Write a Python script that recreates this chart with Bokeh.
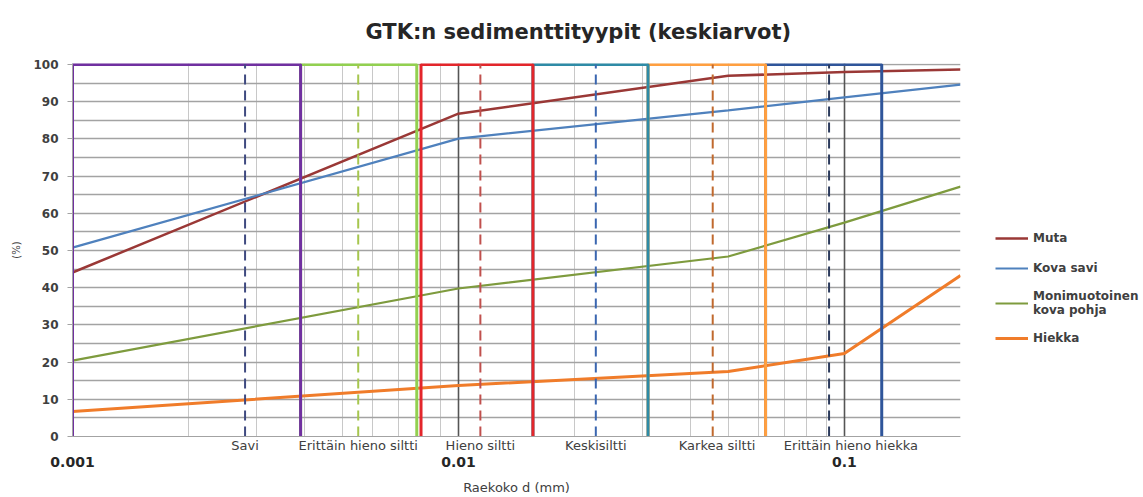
from bokeh.plotting import figure
from bokeh.models import LogAxis, FixedTicker, Grid, Legend, LegendItem, Range1d
from bokeh.embed import file_html
from bokeh.resources import INLINE

# ---- data ----
grain_mm = [0.001, 0.01, 0.05, 0.1, 0.2]
muta = [44.1, 86.8, 97.0, 98.0, 98.7]
kova_savi = [50.8, 80.1, 87.7, 91.2, 94.6]
monimuotoinen = [20.4, 39.8, 48.4, 57.5, 67.2]
hiekka = [6.7, 13.7, 17.5, 22.3, 43.3]

series_names = ["Muta", "Kova savi", "Monimuotoinen\nkova pohja", "Hiekka"]

class_names = ["Savi", "Erittäin hieno siltti", "Hieno siltti",
               "Keskisiltti", "Karkea siltti", "Erittäin hieno hiekka"]
class_lo = [0.001, 0.0039, 0.008, 0.0156, 0.031, 0.0625]
class_hi = [0.0039, 0.0078, 0.0156, 0.031, 0.0625, 0.125]
class_mid = [0.0028, 0.0055, 0.0114, 0.0227, 0.0456, 0.0913]
class_label_x = [0.0028, 0.0055, 0.0114, 0.0227, 0.0468, 0.104]

decade_ticks = [0.001, 0.01, 0.1]
decade_labels = ["0.001", "0.01", "0.1"]
y_ticks = [0, 10, 20, 30, 40, 50, 60, 70, 80, 90, 100]

# ---- styles ----
FONT = "DejaVu Sans"
series_colors = ["#9A3836", "#4F81BD", "#7E9B3E", "#F07C2A"]
series_widths = [2.5, 2.2, 2.2, 3]
box_colors = ["#7030A0", "#92D050", "#E3262B", "#2E8BA6", "#FF9F40", "#2F559A"]
dash_colors = ["#3F4A80", "#A6C64E", "#C0504D", "#3A66B0", "#C0692E", "#2B3A5C"]

p = figure(frame_width=888, frame_height=373, x_axis_type="log",
           x_range=Range1d(0.001, 0.2), y_range=Range1d(0, 100.3),
           output_backend="svg", toolbar_location=None,
           min_border_left=72, min_border_right=183,
           min_border_top=63, min_border_bottom=40)
p.outline_line_color = None
p.background_fill_color = "white"

# title
p.title.text = "GTK:n sedimenttityypit (keskiarvot)"
p.title.text_font = FONT
p.title.text_font_size = "21px"
p.title.text_font_style = "bold"
p.title.text_color = "#262626"
p.title.align = "left"
p.title.vertical_align = "top"
p.title.offset = 293
p.title.standoff = 36

# grids
minor_grid = [m * 10.0 ** e for e in (-3, -2, -1) for m in range(2, 10)] + [0.2]
p.xgrid.ticker = FixedTicker(ticks=minor_grid)
p.xgrid.grid_line_color = "#C8C8C8"
p.xgrid.grid_line_width = 1
p.ygrid.ticker = FixedTicker(ticks=list(range(0, 101, 5)))
p.ygrid.grid_line_color = "#A3A3A3"
p.ygrid.grid_line_width = 1.3
p.add_layout(Grid(dimension=0, ticker=FixedTicker(ticks=[0.01, 0.1]),
                  grid_line_color="#555555", grid_line_width=1.6))

# series lines
renderers = []
for ys, c, w in zip([muta, kova_savi, monimuotoinen, hiekka], series_colors, series_widths):
    renderers.append(p.line(grain_mm, ys, line_color=c, line_width=w))

# class boxes (drawn last-to-first so that each class's right edge stays on top)
xs_b, ys_b, cs_b = [], [], []
for lo, hi, c in reversed(list(zip(class_lo, class_hi, box_colors))):
    xs_b.append([lo, lo, hi, hi])
    ys_b.append([0, 100, 100, 0])
    cs_b.append(c)
p.multi_line(xs_b, ys_b, line_color=cs_b, line_width=3)

# class mid dashed lines
p.segment(x0=class_mid, y0=[0] * len(class_mid), x1=class_mid, y1=[100] * len(class_mid),
          line_color=dash_colors, line_width=2, line_dash="10 6")

# y axis
ya = p.yaxis[0]
ya.ticker = FixedTicker(ticks=y_ticks)
ya.major_label_text_font = FONT
ya.major_label_text_font_size = "12px"
ya.major_label_text_font_style = "bold"
ya.major_label_text_color = "#404040"
ya.major_label_standoff = 9
ya.major_tick_out = 5
ya.major_tick_in = 0
ya.minor_tick_line_color = None
ya.major_tick_line_color = "#A3A3A3"
ya.axis_line_color = "#A3A3A3"
ya.axis_label = "(%)"
ya.axis_label_text_font = FONT
ya.axis_label_text_font_size = "10px"
ya.axis_label_text_font_style = "normal"
ya.axis_label_text_color = "#404040"
ya.axis_label_standoff = 8

# x axis 1: class names
xa = p.xaxis[0]
xa.ticker = FixedTicker(ticks=class_label_x)
xa.major_label_overrides = {x: n for x, n in zip(class_label_x, class_names)}
xa.major_label_text_font = FONT
xa.major_label_text_font_size = "13px"
xa.major_label_text_color = "#404040"
xa.major_label_standoff = 1
xa.major_tick_out = 0
xa.major_tick_in = 0
xa.major_tick_line_color = None
xa.minor_tick_line_color = None
xa.axis_line_color = "#A3A3A3"

# x axis 2: decades
xa2 = LogAxis(ticker=FixedTicker(ticks=decade_ticks))
xa2.major_label_overrides = {x: n for x, n in zip(decade_ticks, decade_labels)}
xa2.major_label_text_font = FONT
xa2.major_label_text_font_size = "14px"
xa2.major_label_text_font_style = "bold"
xa2.major_label_text_color = "#262626"
xa2.major_label_standoff = 1
xa2.major_tick_out = 0
xa2.major_tick_in = 0
xa2.major_tick_line_color = None
xa2.minor_tick_line_color = None
xa2.axis_line_color = None
xa2.axis_label = "Raekoko d (mm)"
xa2.axis_label_text_font = FONT
xa2.axis_label_text_font_size = "13px"
xa2.axis_label_text_font_style = "normal"
xa2.axis_label_text_color = "#404040"
xa2.axis_label_standoff = 10
p.add_layout(xa2, "below")

# legend (right side panel)
legend = Legend(items=[LegendItem(label=n, renderers=[r]) for n, r in zip(series_names, renderers)],
                location=(35, 89), orientation="vertical",
                label_text_font=FONT, label_text_font_size="12px",
                label_text_font_style="bold", label_text_color="#404040",
                glyph_width=33, glyph_height=18, label_height=18, label_standoff=5,
                spacing=12, padding=0, margin=0,
                border_line_color=None, background_fill_alpha=0)
p.add_layout(legend, "right")

open("out.html", "w").write(file_html(p, INLINE))
